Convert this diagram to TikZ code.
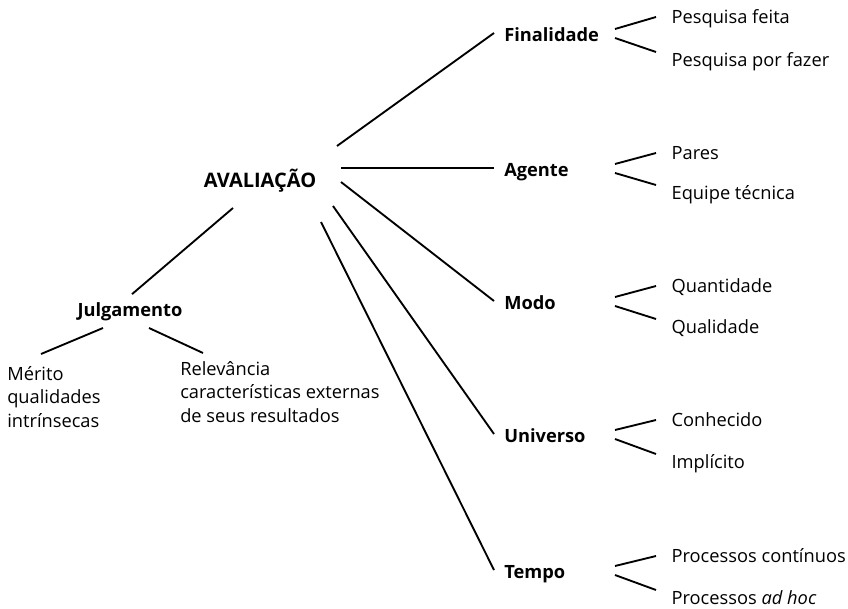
\documentclass[tikz,border=0pt]{standalone}
\usepackage{fontspec}
\setmainfont{Open Sans}
\usetikzlibrary{calc}

\newcommand{\Fork}[3]{
  \draw [edge] ([shift={(121,-6)}]#1.west) -- (#2.west);
  \draw [edge] ([shift={(121,3)}]#1.west) -- ([yshift=6pt]#3.west);
}

\begin{document}
\fontsize{13.7}{17.6}\selectfont
\begin{tikzpicture}
  [x=0.75pt,y=-0.75pt,
   head/.style={font=\bfseries,inner sep=0pt,text height=0.72em,text depth=0pt},
   branch/.style={head,anchor=west,inner xsep=7.5pt},
   leaf/.style={anchor=west,inner xsep=11.5pt,inner ysep=0pt,text height=0.72em,text depth=0pt},
   note/.style={anchor=base west,align=left,inner sep=0pt},
   edge/.style={line width=1.4pt}]

\useasboundingbox (0,0) rectangle (848,609);

% root and left branch
\node [head,font=\fontsize{15}{18}\selectfont\bfseries] (aval) at (260,181) {AVALIAÇÃO};
\node [head] (julg) at (130,310) {Julgamento};
\node [note] (merito) at (7,427) {Mérito\\qualidades\\intrínsecas};
\node [note] (relev) at (180,422) {Relevância\\características externas\\de seus resultados};

\draw [edge] ([shift={(-27,27)}]aval.center) -- ([shift={(2,-9)}]julg.north);
\draw [edge] ([shift={(-27,18)}]julg.center) -- ([shift={(34,-73)}]merito.base west);
\draw [edge] ([shift={(19,18)}]julg.center) -- ([shift={(23,-69)}]relev.base west);

% right branches
\node [branch] (fin) at (494,35) {Finalidade};
\node [branch] (agente) at (494,170) {Agente};
\node [branch] (modo) at (494,303) {Modo};
\node [branch] (univ) at (494,436) {Universo};
\node [branch] (tempo) at (494,572) {Tempo};

\draw [edge] ([shift={(77,-35)}]aval.center) -- ([shift={(0,-2)}]fin.west);
\draw [edge] ([shift={(81,-13)}]aval.center) -- ([shift={(0,-2)}]agente.west);
\draw [edge] ([shift={(81,1)}]aval.center) -- ([shift={(0,-2)}]modo.west);
\draw [edge] ([shift={(73,25)}]aval.center) -- ([shift={(0,-2)}]univ.west);
\draw [edge] ([shift={(61,41)}]aval.center) -- ([shift={(0,-2)}]tempo.west);

% leaves
\node [leaf] (fin1) at (656,17) {Pesquisa feita};
\node [leaf] (fin2) at (656,60) {Pesquisa por fazer};
\node [leaf] (ag1) at (656,153) {Pares};
\node [leaf] (ag2) at (656,193) {Equipe técnica};
\node [leaf] (modo1) at (656,286) {Quantidade};
\node [leaf] (modo2) at (656,327) {Qualidade};
\node [leaf] (univ1) at (656,420) {Conhecido};
\node [leaf] (univ2) at (656,462) {Implícito};
\node [leaf] (tempo1) at (656,556) {Processos contínuos};
\node [leaf] (tempo2) at (656,598) {Processos \textit{ad hoc}};

\Fork{fin}{fin1}{fin2}
\Fork{agente}{ag1}{ag2}
\Fork{modo}{modo1}{modo2}
\Fork{univ}{univ1}{univ2}
\Fork{tempo}{tempo1}{tempo2}

\end{tikzpicture}
\end{document}
